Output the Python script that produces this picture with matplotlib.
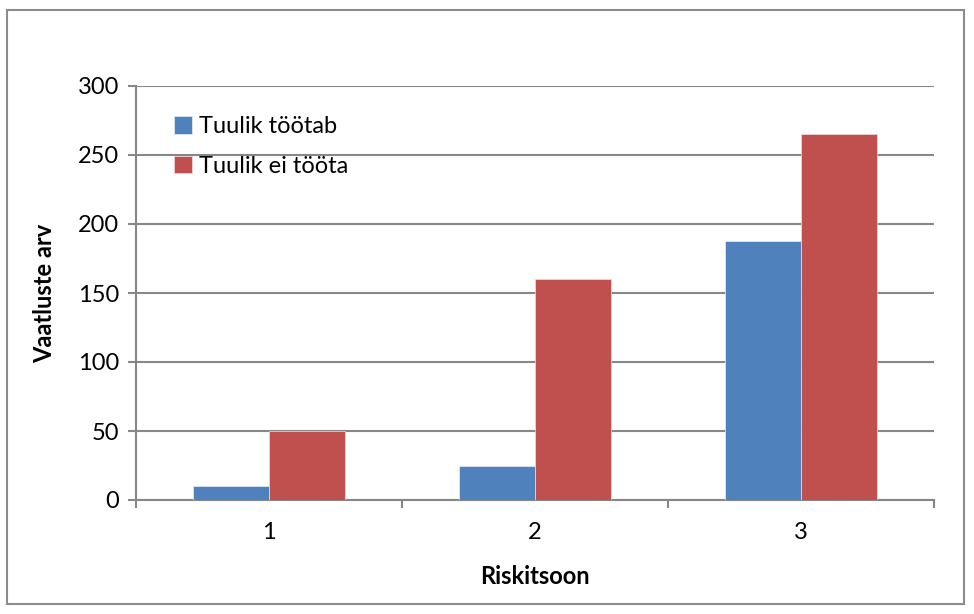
import numpy as np
import matplotlib.pyplot as plt
from matplotlib.patches import Rectangle

plt.rcParams['font.family'] = ['Lato', 'DejaVu Sans']

# zone categories and observation counts
zones = ['1', '2', '3']
working = [10, 25, 188]
not_working = [50, 160, 265]
series_names = ['Tuulik töötab', 'Tuulik ei tööta']

blue = '#4f81bd'
red = '#c0504d'
grid = '#878787'
fs = 17

fig = plt.figure(figsize=(9.74, 6.14), dpi=100)
# outer chart border
fig.patches.append(Rectangle((7 / 974, 10 / 614), 957 / 974, 594 / 614,
                             transform=fig.transFigure, fill=False,
                             edgecolor='#8c8c8c', linewidth=1.5))

ax = fig.add_axes([136 / 974, 1 - 500 / 614, 798 / 974, 414 / 614])

x = np.arange(1, len(zones) + 1)
w = 0.286
ax.bar(x - w / 2, working, w, color=blue, edgecolor='#e8eef6', linewidth=0.5,
       label=series_names[0], zorder=3)
ax.bar(x + w / 2, not_working, w, color=red, edgecolor='#f2dcdb', linewidth=0.5,
       label=series_names[1], zorder=3)

ax.set_xlim(0.5, 3.5)
ax.set_ylim(0, 300)
ax.set_yticks(range(0, 301, 50))
ax.yaxis.grid(True, color=grid, linewidth=1.5, zorder=0)

for s in ['top', 'right']:
    ax.spines[s].set_visible(False)
for s in ['left', 'bottom']:
    ax.spines[s].set_color(grid)
    ax.spines[s].set_linewidth(1.5)

ax.tick_params(axis='y', length=6, width=1.5, color=grid, labelsize=fs, pad=6)
ax.set_xticks(x)
ax.set_xticklabels(zones)
ax.tick_params(axis='x', length=0, labelsize=fs, pad=16)
# category boundary tick marks
ax.set_xticks([0.5, 1.5, 2.5, 3.5], minor=True)
ax.tick_params(axis='x', which='minor', length=6, width=1.5, color=grid,
               direction='out')

ax.set_ylabel('Vaatluste arv', fontsize=fs, fontweight='bold', labelpad=16)
ax.set_xlabel('Riskitsoon', fontsize=fs, fontweight='bold', labelpad=16)

ax.legend(loc='upper left', bbox_to_anchor=(0.036, 0.95), frameon=False,
          fontsize=fs, handlelength=0.75, handleheight=0.75, handletextpad=0.3,
          labelspacing=0.78, borderaxespad=0)

fig.savefig('out.png', dpi=100, facecolor='white')
